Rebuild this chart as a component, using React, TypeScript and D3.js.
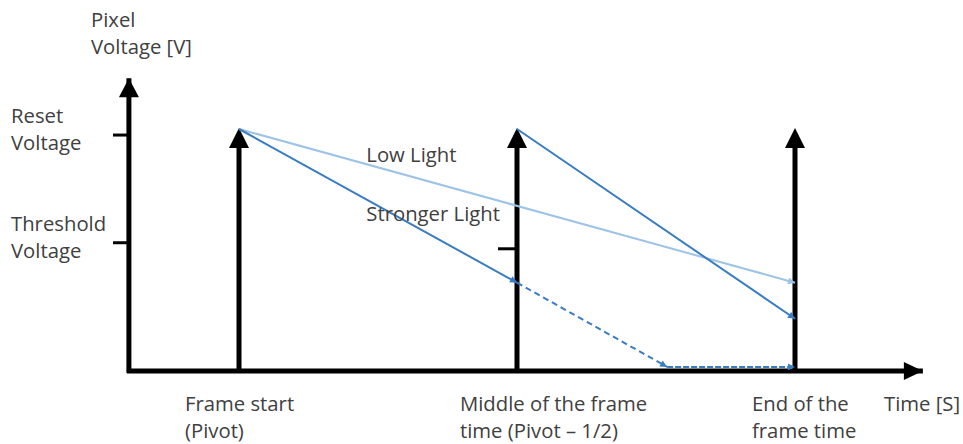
import React from "react";
import * as d3 from "d3";

// ---- data ----
const timeMarkers = [0, 0.5, 1]; // frame start, middle, end (fraction of frame)
const timeLabels = [
  ["Frame start", "(Pivot)"],
  ["Middle of the frame", "time (Pivot – 1/2)"],
  ["End of the", "frame time"],
];
const yTickValues = [0.975, 0.53];
const yTickLabels = [
  ["Reset", "Voltage"],
  ["Threshold", "Voltage"],
];
const midTickValue = 0.505;
const lowLight = [
  { t: 0, v: 1 },
  { t: 1, v: 0.365 },
];
const strongerLight = [
  { t: 0, v: 1 },
  { t: 0.5, v: 0.365 },
];
const strongerDashedA = [
  { t: 0.5, v: 0.365 },
  { t: 0.77, v: 0.017 },
];
const strongerDashedB = [
  { t: 0.77, v: 0.017 },
  { t: 1, v: 0.017 },
];
const strongerLight2 = [
  { t: 0.5, v: 1 },
  { t: 1, v: 0.216 },
];
const seriesLabels = [
  { text: "Low Light", t: 0.229, v: 0.865 },
  { text: "Stronger Light", t: 0.229, v: 0.62 },
];

// ---- layout ----
const W = 963;
const H = 444;
const x = d3.scaleLinear().domain([0, 1]).range([239, 795]);
const y = d3.scaleLinear().domain([0, 1]).range([371, 129]);
const xAxisStart = -0.198;
const xAxisEnd = 1.23;
const yAxisTop = 1.21;
const timeLabelDx = [-54, -57, -43];

const line = d3
  .line<{ t: number; v: number }>()
  .x((d) => x(d.t))
  .y((d) => y(d.v));

const LIGHT = "#9DC3E6";
const DARK = "#3A7CC2";
const TEXT = "#404040";
const FONT = "'Open Sans', Lato, sans-serif";
const FS = 20.3;

export default function App() {
  const x0 = x(xAxisStart);
  const y0 = y(0);
  return (
    <svg
      width={W}
      height={H}
      style={{ position: "absolute", left: 0, top: 0, background: "#fff" }}
    >
      <defs>
        <marker id="al" viewBox="0 0 10 10" refX="10" refY="5" markerWidth="8" markerHeight="7" markerUnits="userSpaceOnUse" orient="auto">
          <path d="M0,0 L10,5 L0,10 Z" fill={LIGHT} />
        </marker>
        <marker id="ad" viewBox="0 0 10 10" refX="10" refY="5" markerWidth="8" markerHeight="7" markerUnits="userSpaceOnUse" orient="auto">
          <path d="M0,0 L10,5 L0,10 Z" fill={DARK} />
        </marker>
      </defs>

      {/* axis titles */}
      <g fill={TEXT} fontFamily={FONT} fontSize={FS}>
        <text x={91} y={27}>Pixel</text>
        <text x={91} y={54}>Voltage [V]</text>
        <text x={884} y={411}>Time [S]</text>
      </g>

      {/* y axis ticks and labels */}
      {yTickValues.map((v, i) => (
        <g key={"yt" + i}>
          <line x1={113} x2={x0} y1={y(v)} y2={y(v)} stroke="#000" strokeWidth={3} />
          <g fill={TEXT} fontFamily={FONT} fontSize={FS}>
            <text x={11} y={y(v) - 12}>{yTickLabels[i][0]}</text>
            <text x={11} y={y(v) + 15}>{yTickLabels[i][1]}</text>
          </g>
        </g>
      ))}

      {/* middle tick */}
      <line x1={498} x2={x(0.5)} y1={y(midTickValue)} y2={y(midTickValue)} stroke="#000" strokeWidth={3} />

      {/* axes */}
      <path d={`M${x0},${y0 + 2} L${x0},${y(yAxisTop)}`} stroke="#000" strokeWidth={5} fill="none" />
      <path d={`M${x0 - 2},${y0} L${x(xAxisEnd)},${y0}`} stroke="#000" strokeWidth={5} fill="none" />
      <path d={`M${x0 - 10},${y(yAxisTop) + 19} L${x0},${y(yAxisTop)} L${x0 + 10},${y(yAxisTop) + 19} Z`} fill="#000" />
      <path d={`M${x(xAxisEnd) - 19},${y0 - 9} L${x(xAxisEnd)},${y0} L${x(xAxisEnd) - 19},${y0 + 9} Z`} fill="#000" />

      {/* time marker arrows */}
      {timeMarkers.map((t, i) => (
        <g key={"tm" + i}>
          <line x1={x(t)} x2={x(t)} y1={y0} y2={y(1) + 10} stroke="#000" strokeWidth={5} />
          <path d={`M${x(t) - 10},${y(1) + 19} L${x(t)},${y(1) - 1} L${x(t) + 10},${y(1) + 19} Z`} fill="#000" />
          <g fill={TEXT} fontFamily={FONT} fontSize={FS}>
            <text x={x(t) + timeLabelDx[i]} y={411}>{timeLabels[i][0]}</text>
            <text x={x(t) + timeLabelDx[i]} y={438}>{timeLabels[i][1]}</text>
          </g>
        </g>
      ))}

      {/* series */}
      <path d={line(lowLight) || ""} stroke={LIGHT} strokeWidth={2} fill="none" markerEnd="url(#al)" />
      <path d={line(strongerLight) || ""} stroke={DARK} strokeWidth={2} fill="none" markerEnd="url(#ad)" />
      <path d={line(strongerDashedA) || ""} stroke={DARK} strokeWidth={2} strokeDasharray="6,4" fill="none" markerEnd="url(#ad)" />
      <path d={line(strongerDashedB) || ""} stroke={DARK} strokeWidth={2} strokeDasharray="6,2" fill="none" markerEnd="url(#ad)" />
      <path d={line(strongerLight2) || ""} stroke={DARK} strokeWidth={2} fill="none" markerEnd="url(#ad)" />

      {seriesLabels.map((s, i) => (
        <text key={"sl" + i} x={x(s.t)} y={y(s.v)} fill={TEXT} fontFamily={FONT} fontSize={FS}>
          {s.text}
        </text>
      ))}
    </svg>
  );
}
